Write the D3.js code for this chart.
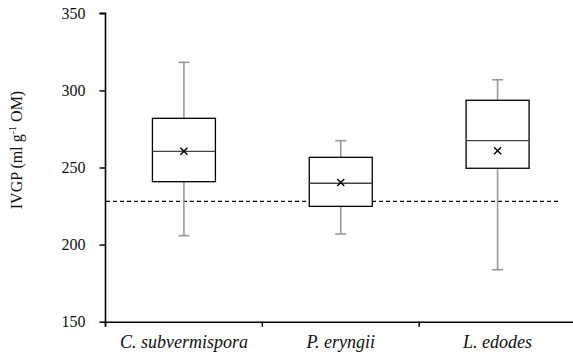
<!DOCTYPE html>
<html><head><meta charset="utf-8">
<script src="https://cdn.jsdelivr.net/npm/d3@7"></script>
<style>body{margin:0;background:#fff}svg{display:block}text{font-family:'Liberation Serif','Times New Roman',serif}</style>
</head><body>
<svg id="c" width="573" height="360"></svg>
<script>
const categories = ["C. subvermispora", "P. eryngii", "L. edodes"];
const whiskerLow = [205.8, 206.9, 183.7];
const q1 = [240.8, 224.8, 249.5];
const median = [260.5, 239.8, 267.4];
const q3 = [281.9, 256.6, 293.6];
const whiskerHigh = [318.2, 267.4, 306.9];
const means = [260.5, 240.2, 260.9];
const referenceLine = 228.0;
const yTicks = [150, 200, 250, 300, 350];

const svg = d3.select("#c");
const font = "'Liberation Serif', 'Times New Roman', serif";
const x = d3.scaleBand().domain(categories).range([105.5, 576]).padding(0);
const y = d3.scaleLinear().domain([150, 350]).range([321.7, 13.3]);
const data = categories.map((c, i) => ({c, lo: whiskerLow[i], q1: q1[i], med: median[i], q3: q3[i], hi: whiskerHigh[i], mean: means[i]}));

// reference line
svg.append("line").attr("x1", 106).attr("x2", 558)
  .attr("y1", y(referenceLine)).attr("y2", y(referenceLine))
  .attr("stroke", "#000").attr("stroke-width", 1.2).attr("stroke-dasharray", "4,3");

const boxW = 63, capW = 11;
const g = svg.append("g").selectAll("g").data(data).join("g")
  .attr("transform", d => `translate(${x(d.c) + x.bandwidth() / 2},0)`);
g.append("line").attr("y1", d => y(d.hi)).attr("y2", d => y(d.q3)).attr("stroke", "#999").attr("stroke-width", 1.6);
g.append("line").attr("y1", d => y(d.q1)).attr("y2", d => y(d.lo)).attr("stroke", "#999").attr("stroke-width", 1.6);
g.append("line").attr("x1", -capW / 2).attr("x2", capW / 2).attr("y1", d => y(d.hi)).attr("y2", d => y(d.hi)).attr("stroke", "#999").attr("stroke-width", 1.6);
g.append("line").attr("x1", -capW / 2).attr("x2", capW / 2).attr("y1", d => y(d.lo)).attr("y2", d => y(d.lo)).attr("stroke", "#999").attr("stroke-width", 1.6);
g.append("rect").attr("x", -boxW / 2).attr("width", boxW)
  .attr("y", d => y(d.q3)).attr("height", d => y(d.q1) - y(d.q3))
  .attr("fill", "#fff").attr("stroke", "#000").attr("stroke-width", 1.3);
g.append("line").attr("x1", -boxW / 2).attr("x2", boxW / 2).attr("y1", d => y(d.med)).attr("y2", d => y(d.med)).attr("stroke", "#444").attr("stroke-width", 1.3);
g.append("path").attr("d", d => { const m = y(d.mean), s = 3.5; return `M${-s},${m - s}L${s},${m + s}M${-s},${m + s}L${s},${m - s}`; })
  .attr("stroke", "#000").attr("stroke-width", 1.4);

// axes
const ya = svg.append("g").attr("transform", "translate(105.5,0)")
  .call(d3.axisLeft(y).tickValues(yTicks).tickSize(6).tickPadding(14));
const xa = svg.append("g").attr("transform", "translate(0,321.7)")
  .call(d3.axisBottom(x).tickSize(0).tickPadding(14));
xa.selectAll(".tick line").remove();
[105.5, ...categories.map(c => x(c) + x.bandwidth())].forEach(v => {
  xa.append("line").attr("x1", v).attr("x2", v).attr("y1", 0).attr("y2", 5).attr("stroke", "#000").attr("stroke-width", 1.5);
});
[ya, xa].forEach(a => {
  a.attr("font-family", null);
  a.select(".domain").attr("stroke", "#000").attr("stroke-width", 1.6);
  a.selectAll(".tick line").attr("stroke", "#000").attr("stroke-width", 1.5);
  a.selectAll("text").style("font-family", font).attr("fill", "#111");
});
ya.select(".domain").attr("d", "M-6,13.3H0V326.7");
ya.selectAll("text").attr("font-size", 16);
xa.selectAll("text").attr("font-size", 18).style("font-style", "italic");

// y label
const lab = svg.append("text").attr("transform", "translate(22,150) rotate(-90)")
  .attr("text-anchor", "middle").style("font-family", font).attr("font-size", 16).attr("fill", "#111");
lab.append("tspan").text("IVGP (ml g");
lab.append("tspan").attr("font-size", 10).attr("dy", -6).text("-1");
lab.append("tspan").attr("dy", 6).text(" OM)");
</script>
</body></html>
